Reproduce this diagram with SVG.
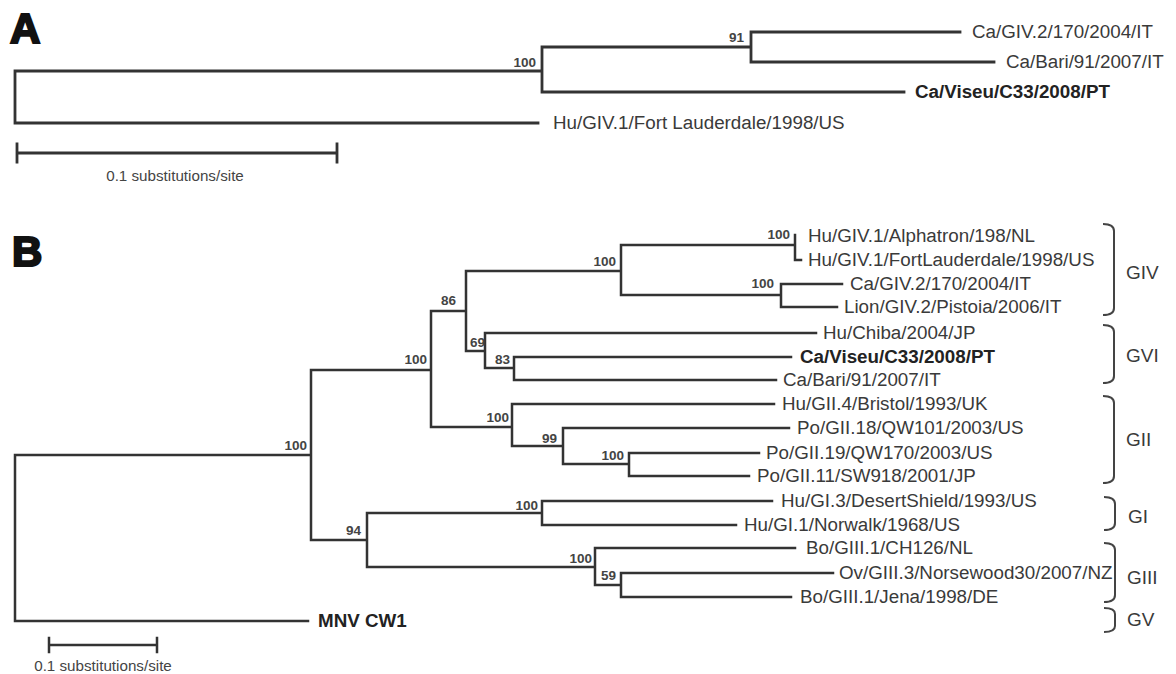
<svg xmlns="http://www.w3.org/2000/svg" width="1176" height="674" viewBox="0 0 1176 674">
<style>
.bg{fill:#fff}
.br{fill:none;stroke:#333;stroke-linecap:square}
.brA{stroke-width:2.8}
.brB{stroke-width:2.5}
.lf{font-family:"Liberation Sans",Arial,sans-serif;font-size:18.8px;fill:#3a3a3a}
.bd{font-weight:bold;fill:#222}
.bs{font-family:"Liberation Sans",Arial,sans-serif;font-size:13.5px;font-weight:bold;fill:#444;text-anchor:end}
.sc{font-family:"Liberation Sans",Arial,sans-serif;font-size:15.2px;fill:#444;text-anchor:middle}
.pl{font-family:"Liberation Sans",Arial,sans-serif;font-size:42px;font-weight:900;fill:#111;stroke:#111;stroke-width:2.2}
.bk{fill:none;stroke:#444;stroke-width:2}
.gl{font-family:"Liberation Sans",Arial,sans-serif;font-size:19px;fill:#3a3a3a}
</style>
<rect class="bg" x="0" y="0" width="1176" height="674"/>
<text class="pl" x="10" y="43">A</text>
<text class="pl" x="12" y="266">B</text>

<g id="connectors">
<path class="br brA" d="M15,71 V123 M15,71 H542 M542,47 V92 M542,47 H751 M751,32 V62 M751,32 H960 M751,62 H994 M542,92 H904 M15,123 H538"/>
<path class="br brA" d="M17,153 H337 M17,144 V162 M337,144 V162"/>
<path class="br brB" d="M15,455 V621 M15,455 H311 M15,621 H308
M311,370 V540 M311,370 H431 M311,540 H367
M431,311 V427 M431,311 H466 M431,427 H512
M466,271 V351 M466,271 H621 M466,351 H485
M621,245 V295 M621,245 H795 M621,295 H781
M795,235 V260 M795,260 H801
M781,284 V307 M781,284 H842 M781,307 H837
M485,333 V368 M485,333 H816 M485,368 H514
M514,357 V380 M514,357 H791 M514,380 H776
M512,404 V446 M512,404 H774 M512,446 H563
M563,428 V464 M563,428 H789 M563,464 H629
M629,453 V476 M629,453 H759 M629,476 H749
M367,513 V567 M367,513 H542 M367,567 H595
M542,501 V525 M542,501 H772 M542,525 H736
M595,548 V585 M595,548 H795 M595,585 H621
M621,573 V597 M621,573 H833 M621,597 H791"/>
<path class="br brB" d="M49,645 H157 M49,638 V652 M157,638 V652"/>
</g>

<g id="panelA-leaves">
<g id="a-giv2"><text class="lf" x="972" y="38">Ca/GIV.2/170/2004/IT</text></g>
<g id="a-bari"><text class="lf" x="1006" y="68">Ca/Bari/91/2007/IT</text></g>
<g id="a-viseu"><text class="lf bd" x="915" y="98">Ca/Viseu/C33/2008/PT</text></g>
<g id="a-fortl"><text class="lf" x="553" y="129">Hu/GIV.1/Fort Lauderdale/1998/US</text></g>
<g id="a-b100"><text class="bs" x="536" y="67">100</text></g>
<g id="a-b91"><text class="bs" x="744" y="42">91</text></g>
<g id="a-scale"><text class="sc" x="175" y="181">0.1 substitutions/site</text></g>
</g>

<g id="panelB-leaves">
<g id="b-alph"><text class="lf" x="808" y="242">Hu/GIV.1/Alphatron/198/NL</text></g>
<g id="b-fortl"><text class="lf" x="808" y="266">Hu/GIV.1/FortLauderdale/1998/US</text></g>
<g id="b-giv2"><text class="lf" x="850" y="290">Ca/GIV.2/170/2004/IT</text></g>
<g id="b-lion"><text class="lf" x="844" y="313">Lion/GIV.2/Pistoia/2006/IT</text></g>
<g id="b-chiba"><text class="lf" x="823" y="339">Hu/Chiba/2004/JP</text></g>
<g id="b-viseu"><text class="lf bd" x="800" y="363">Ca/Viseu/C33/2008/PT</text></g>
<g id="b-bari"><text class="lf" x="783" y="386">Ca/Bari/91/2007/IT</text></g>
<g id="b-gii4"><text class="lf" x="782" y="410">Hu/GII.4/Bristol/1993/UK</text></g>
<g id="b-gii18"><text class="lf" x="797" y="434">Po/GII.18/QW101/2003/US</text></g>
<g id="b-gii19"><text class="lf" x="766" y="459">Po/GII.19/QW170/2003/US</text></g>
<g id="b-gii11"><text class="lf" x="757" y="482">Po/GII.11/SW918/2001/JP</text></g>
<g id="b-gi3"><text class="lf" x="781" y="507">Hu/GI.3/DesertShield/1993/US</text></g>
<g id="b-gi1"><text class="lf" x="744" y="531">Hu/GI.1/Norwalk/1968/US</text></g>
<g id="b-ch126"><text class="lf" x="806" y="554">Bo/GIII.1/CH126/NL</text></g>
<g id="b-ov"><text class="lf" x="839" y="579">Ov/GIII.3/Norsewood30/2007/NZ</text></g>
<g id="b-jena"><text class="lf" x="800" y="603">Bo/GIII.1/Jena/1998/DE</text></g>
<g id="b-mnv"><text class="lf bd" x="318" y="627">MNV CW1</text></g>
</g>

<g id="panelB-support">
<text class="bs" x="307" y="450">100</text>
<text class="bs" x="427" y="364">100</text>
<text class="bs" x="456" y="305">86</text>
<text class="bs" x="616" y="266">100</text>
<text class="bs" x="790" y="239">100</text>
<text class="bs" x="774" y="288">100</text>
<text class="bs" x="485" y="347">69</text>
<text class="bs" x="510" y="364">83</text>
<text class="bs" x="509" y="422">100</text>
<text class="bs" x="557" y="443">99</text>
<text class="bs" x="624" y="460">100</text>
<text class="bs" x="361" y="535">94</text>
<text class="bs" x="538" y="510">100</text>
<text class="bs" x="592" y="563">100</text>
<text class="bs" x="616" y="580">59</text>
</g>

<g id="b-scale"><text class="sc" x="103" y="671">0.1 substitutions/site</text></g>

<g id="genogroups">
<g id="g-giv"><path class="bk" d="M1103,224 Q1114,224 1114,231 V308 Q1114,315 1103,315"/><text class="gl" x="1126" y="279">GIV</text></g>
<g id="g-gvi"><path class="bk" d="M1103,325 Q1114,325 1114,332 V376 Q1114,383 1103,383"/><text class="gl" x="1126" y="362">GVI</text></g>
<g id="g-gii"><path class="bk" d="M1103,396 Q1114,396 1114,403 V476 Q1114,483 1103,483"/><text class="gl" x="1126" y="446">GII</text></g>
<g id="g-gi"><path class="bk" d="M1104,497 Q1115,497 1115,504 V523 Q1115,530 1104,530"/><text class="gl" x="1128" y="523">GI</text></g>
<g id="g-giii"><path class="bk" d="M1104,543 Q1115,543 1115,550 V595 Q1115,602 1104,602"/><text class="gl" x="1127" y="584">GIII</text></g>
<g id="g-gv"><path class="bk" d="M1104,608 Q1115,608 1115,614 V626 Q1115,632 1104,632"/><text class="gl" x="1127" y="626">GV</text></g>
</g>
</svg>
